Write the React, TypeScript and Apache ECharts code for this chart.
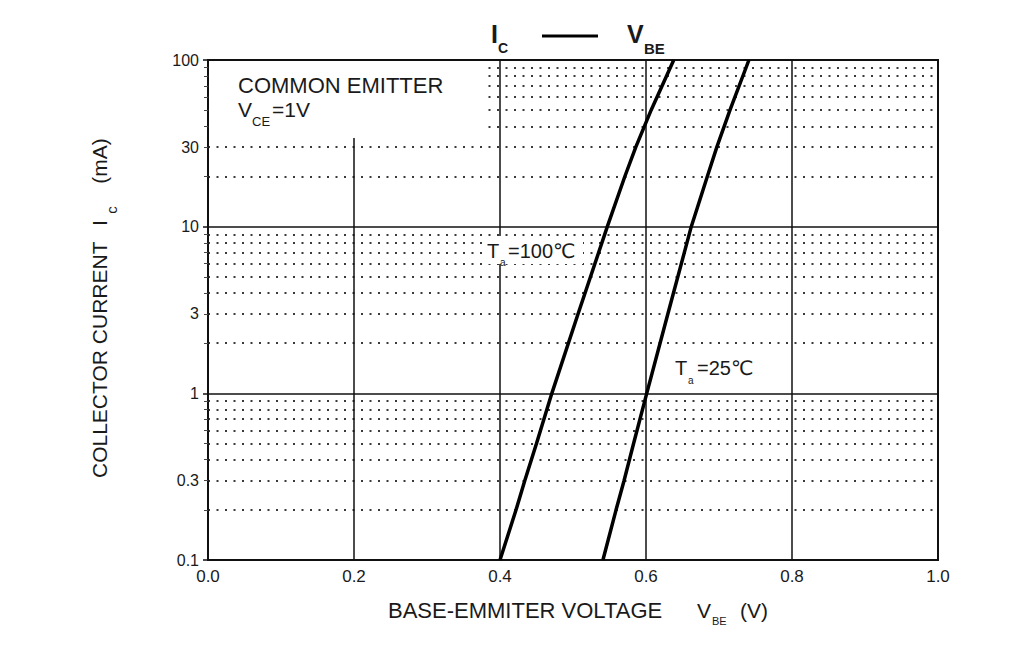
import React, { useEffect, useRef } from "react";
import * as echarts from "echarts";

// ---- data ----
const xTickValues = [0, 0.2, 0.4, 0.6, 0.8, 1.0];
const yTickLabels = [0.1, 0.3, 1, 3, 10, 30, 100];
const yMinorGrid = [
  0.2, 0.3, 0.4, 0.5, 0.6, 0.7, 0.8, 0.9,
  2, 3, 4, 5, 6, 7, 8, 9,
  20, 30, 40, 50, 60, 70, 80, 90,
];
const currentMA = [0.1, 0.2, 0.3, 0.5, 1, 3, 10, 20, 30, 50, 100];
const vbe100C = [0.4, 0.422, 0.434, 0.45, 0.471, 0.507, 0.547, 0.571, 0.586, 0.607, 0.638];
const vbe25C = [0.541, 0.559, 0.57, 0.583, 0.601, 0.63, 0.662, 0.684, 0.697, 0.715, 0.741];

const FONT = '"Liberation Sans", Arial, "DejaVu Sans", sans-serif';
const INK = "#1a1a1a";

function txt(text: string, x: number, y: number, size: number, extra: any = {}) {
  return {
    type: "text",
    x,
    y,
    z: 11,
    style: {
      text,
      fill: INK,
      fontSize: size,
      fontFamily: FONT,
      align: "left",
      verticalAlign: "middle",
      ...extra,
    },
  };
}

export default function App() {
  const ref = useRef<HTMLDivElement>(null);

  useEffect(() => {
    if (!ref.current) return;
    const chart = echarts.init(ref.current, undefined, { renderer: "svg" });

    const s100 = currentMA.map((c, i) => [vbe100C[i], c]);
    const s25 = currentMA.map((c, i) => [vbe25C[i], c]);

    chart.setOption({
      animation: false,
      backgroundColor: "#ffffff",
      grid: {
        left: 208,
        top: 60,
        width: 730,
        height: 500,
        show: true,
        borderColor: "#111",
        borderWidth: 2,
        backgroundColor: "transparent",
      },
      xAxis: {
        type: "value",
        min: 0,
        max: 1,
        interval: 0.2,
        axisLine: { show: false },
        axisTick: { show: false },
        axisLabel: {
          margin: 8,
          fontSize: 17,
          fontFamily: FONT,
          color: INK,
          customValues: xTickValues,
          formatter: (v: number) => v.toFixed(1),
        },
        splitLine: { show: true, lineStyle: { color: "#111", width: 1.5, type: "solid" } },
      },
      yAxis: [
        {
          type: "log",
          logBase: 10,
          min: 0.1,
          max: 100,
          position: "left",
          axisLine: { show: false },
          axisTick: { show: true, length: 5, lineStyle: { color: "#111", width: 1.5 } },
          axisLabel: {
            margin: 9,
            fontSize: 16,
            fontFamily: FONT,
            color: INK,
            customValues: yTickLabels,
            formatter: (v: number) => String(v),
          },
          splitLine: { show: true, lineStyle: { color: "#111", width: 1.5, type: "solid" } },
        },
        {
          type: "log",
          logBase: 10,
          min: 0.1,
          max: 100,
          position: "left",
          axisLine: { show: false },
          axisTick: {
            show: true,
            length: 4,
            customValues: yMinorGrid,
            lineStyle: { color: "#444", width: 1 },
          },
          axisLabel: { show: false },
          splitLine: {
            show: true,
            lineStyle: { color: "#3a3a3a", width: 2, type: [2, 6.5] },
          },
        },
      ],
      series: [
        {
          name: "Ta=100℃",
          type: "line",
          yAxisIndex: 0,
          data: s100,
          showSymbol: false,
          smooth: false,
          lineStyle: { color: "#000", width: 3.5 },
        },
        {
          name: "Ta=25℃",
          type: "line",
          yAxisIndex: 0,
          data: s25,
          showSymbol: false,
          smooth: false,
          lineStyle: { color: "#000", width: 3.5 },
        },
      ],
      graphic: [
        // title: Ic — VBE
        txt("I", 491, 34, 25, { fontWeight: "bold" }),
        txt("C", 498, 48, 14, { fontWeight: "bold" }),
        {
          type: "line",
          z: 11,
          shape: { x1: 542, y1: 36, x2: 598, y2: 36 },
          style: { stroke: "#000", lineWidth: 3 },
        },
        txt("V", 627, 34, 25, { fontWeight: "bold" }),
        txt("BE", 644, 48, 15, { fontWeight: "bold" }),
        // COMMON EMITTER box
        {
          type: "rect",
          z: 10,
          shape: { x: 209, y: 61, width: 273, height: 77 },
          style: { fill: "#ffffff", stroke: "none" },
        },
        txt("COMMON EMITTER", 238, 85, 22),
        txt("V", 238, 109, 21),
        txt("CE", 252, 121, 13),
        txt("=1V", 272, 109, 21),
        // Ta = 100 label
        {
          type: "rect",
          z: 10,
          shape: { x: 485, y: 236, width: 98, height: 28 },
          style: { fill: "#ffffff", stroke: "none" },
        },
        txt("T", 487, 251, 20),
        txt("a", 500, 262, 10),
        txt("=100℃", 508, 251, 20),
        // Ta = 25 label
        txt("T", 675, 368, 20),
        txt("a", 688, 380, 10),
        txt("=25℃", 697, 368, 20),
        // x-axis title
        txt("BASE-EMMITER VOLTAGE", 388, 610, 22),
        txt("V", 697, 610, 21),
        txt("BE", 712, 621, 11),
        txt("(V)", 740, 610, 21),
        // y-axis title (rotated)
        {
          type: "group",
          x: 99,
          y: 478,
          rotation: Math.PI / 2,
          children: [
            txt("COLLECTOR CURRENT", 0, 0, 21),
            txt("I", 255, 0, 21, { align: "center" }),
            txt("c", 268, 12, 15, { align: "center" }),
            txt("(mA)", 317, 0, 21, { align: "center" }),
          ],
        },
      ],
    });

    return () => chart.dispose();
  }, []);

  return (
    <div
      ref={ref}
      style={{ position: "fixed", left: 0, top: 0, width: 1034, height: 650, background: "#fff" }}
    />
  );
}
